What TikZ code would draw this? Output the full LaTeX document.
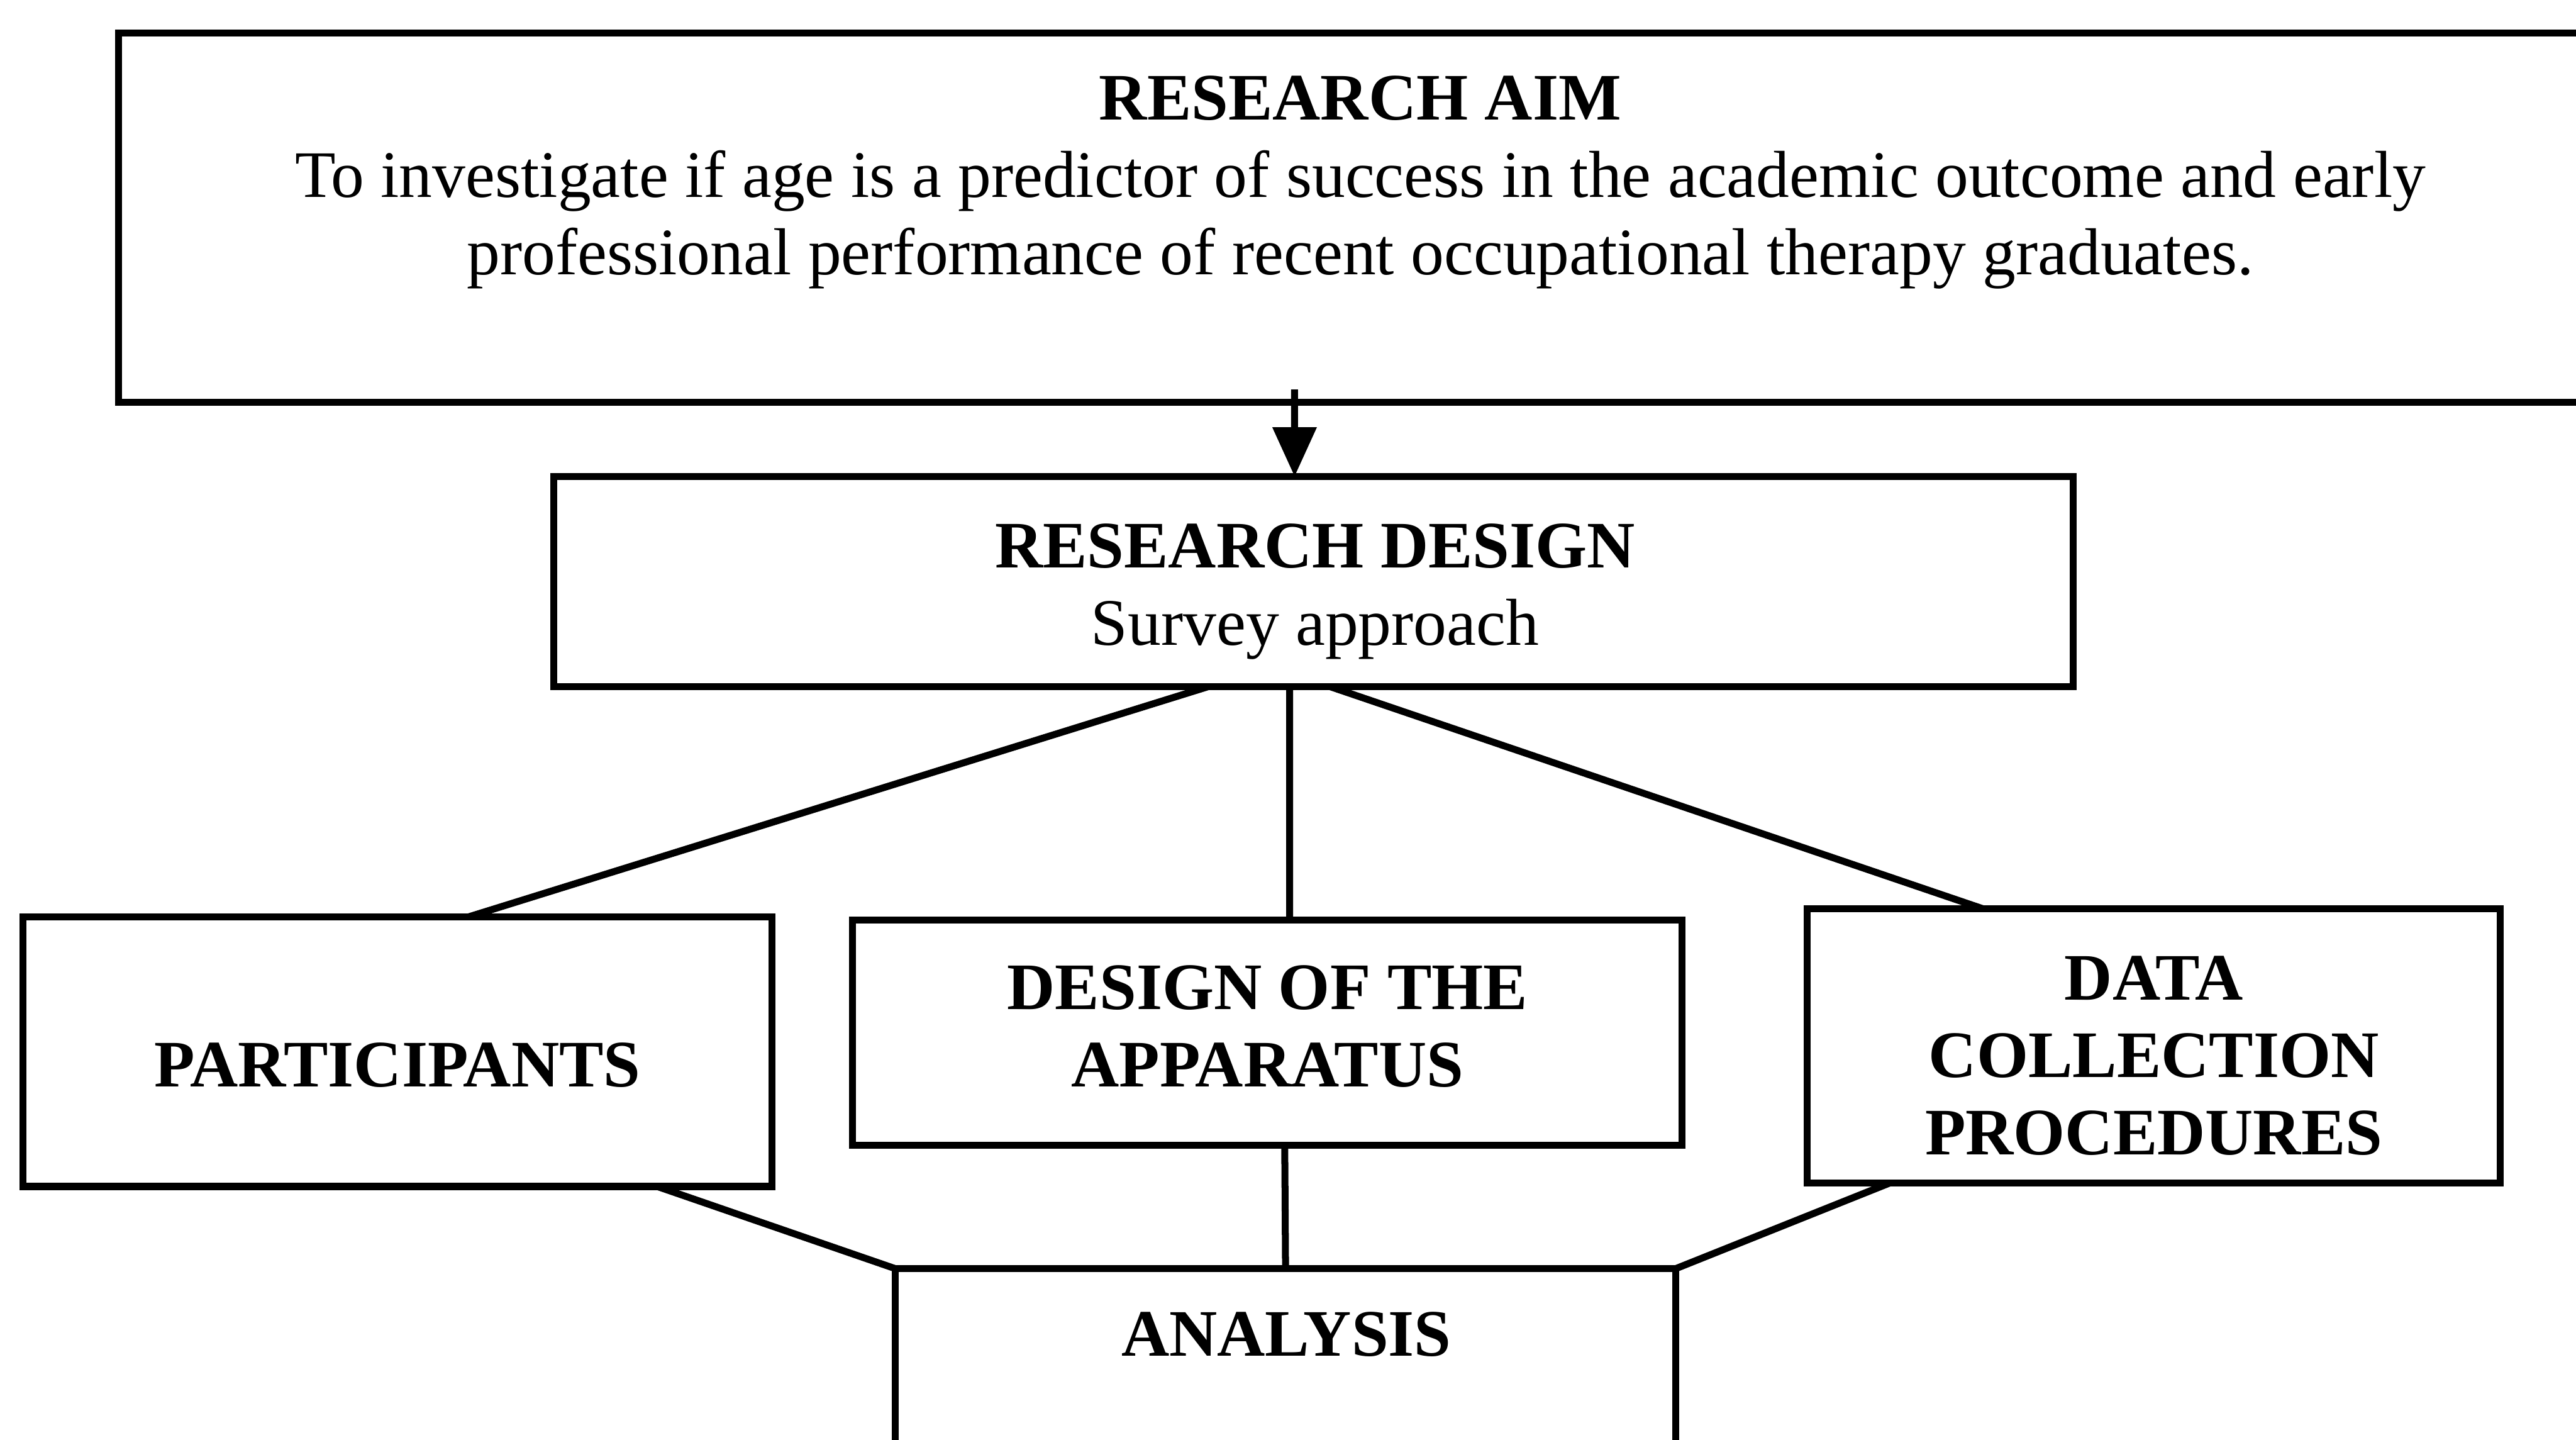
\documentclass[tikz,border=0pt]{standalone}
\usepackage{fontspec}
\setmainfont{Liberation Serif}
\usetikzlibrary{arrows.meta}

\begin{document}
\begin{tikzpicture}[inner sep=0pt,outer sep=0pt,line width=1.2pt,
stagebox/.style={draw,rectangle,line width=1.2pt},
boxtext/.style={align=center,font=\fontsize{11.5}{13.4}\selectfont}]

\useasboundingbox (0,0) rectangle (15.68,8.76);

% aim box runs off the right edge, analysis off the bottom
\draw (8.36,7.435) node[stagebox,minimum width=15.28cm,minimum height=2.25cm] (aim) {};
\draw (8.28,7.65) node[boxtext] (aimtext) {\textbf{RESEARCH AIM}\\
To investigate if age is a predictor of success in the academic outcome and early\\
professional performance of recent occupational therapy graduates.};

\draw (7.995,5.22) node[stagebox,minimum width=9.25cm,minimum height=1.28cm] (design) {};
\draw (design) ++(0.01,-0.06) node[boxtext] (designtext) {\textbf{RESEARCH DESIGN}\\Survey approach};

\draw (2.42,2.36) node[stagebox,minimum width=4.56cm,minimum height=1.64cm] (part) {};
\draw (part) ++(0,-0.08) node[boxtext] (parttext) {\textbf{PARTICIPANTS}};
\draw (7.715,2.475) node[stagebox,minimum width=5.05cm,minimum height=1.37cm] (appar) {};
\draw (appar) ++(0,0.04) node[boxtext] (appartext) {\textbf{DESIGN OF THE}\\\textbf{APPARATUS}};
\draw (13.11,2.395) node[stagebox,minimum width=4.22cm,minimum height=1.67cm] (data) {};
\draw (data) ++(0,-0.06) node[boxtext] (datatext) {\textbf{DATA}\\\textbf{COLLECTION}\\\textbf{PROCEDURES}};

\draw (7.825,0.27) node[stagebox,minimum width=4.75cm,minimum height=1.54cm] (anal) {};
\draw (7.83,0.64) node[boxtext] (analtext) {\textbf{ANALYSIS}};

\draw[-{Triangle[length=3mm,width=2.6mm]}] ([xshift=-4.8mm,yshift=0.8mm]aim.south) -- ([xshift=-1.15mm]design.north);

\draw ([xshift=-6.45mm]design.south) -- ([xshift=4.3mm]part.north);
\draw ([xshift=-1.45mm]design.south) -- ([xshift=1.35mm]appar.north);
\draw ([xshift=1.05mm]design.south) -- ([xshift=-10.4mm]data.north);

\draw ([xshift=15.8mm]part.south) -- (anal.north west);
\draw ([xshift=1.05mm]appar.south) -- (anal.north);
\draw ([xshift=-16.1mm]data.south) -- (anal.north east);
\end{tikzpicture}
\end{document}
